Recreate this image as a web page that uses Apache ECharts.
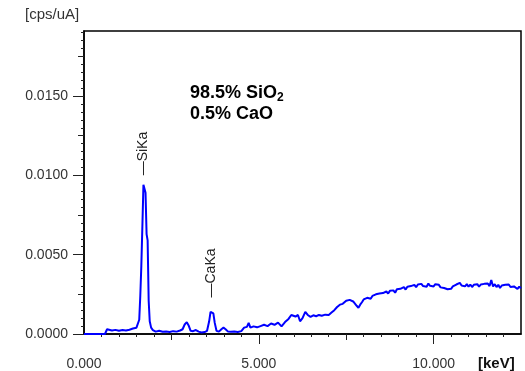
<!DOCTYPE html>
<html>
<head>
<meta charset="utf-8">
<script src="https://cdn.jsdelivr.net/npm/echarts@6/dist/echarts.min.js"></script>
<style>
  html, body { margin: 0; padding: 0; background: #fff; }
  #chart { width: 525px; height: 371px; }
</style>
</head>
<body>
<div id="chart"></div>
<script>
// energy (keV) and intensity (cps/uA)
const energy = [
  0.00, 0.60, 0.66, 0.70, 0.80, 0.90, 1.00, 1.10, 1.20, 1.30, 1.40, 1.45, 1.50, 1.55,
  1.58, 1.61, 1.64, 1.67, 1.70, 1.73, 1.76, 1.79, 1.82, 1.85, 1.88, 1.92, 1.97,
  2.05, 2.15, 2.25, 2.35, 2.45, 2.55, 2.65, 2.75, 2.82, 2.88, 2.94, 3.00, 3.05,
  3.12, 3.20, 3.28, 3.36, 3.45, 3.52, 3.58, 3.62, 3.66, 3.70, 3.74, 3.79, 3.86,
  3.93, 3.99, 4.05, 4.12, 4.20, 4.30, 4.40, 4.50, 4.58, 4.66, 4.71, 4.76, 4.85,
  4.95, 5.05, 5.15, 5.25, 5.35, 5.45, 5.55, 5.65, 5.75, 5.85, 5.93, 5.98, 6.05,
  6.12, 6.18, 6.25, 6.33, 6.40, 6.48, 6.56, 6.64, 6.72, 6.80, 6.90, 7.00, 7.08,
  7.16, 7.24, 7.32, 7.40,
  7.50, 7.55, 7.60, 7.65, 7.70, 7.75, 7.80, 7.85, 7.90, 7.95,
  8.00, 8.05, 8.10, 8.15, 8.20, 8.25, 8.30, 8.35, 8.40, 8.45,
  8.50, 8.55, 8.60, 8.65, 8.70, 8.75, 8.80, 8.85, 8.90, 8.95,
  9.00, 9.05, 9.10, 9.15, 9.20, 9.25, 9.30, 9.35, 9.40, 9.45,
  9.50, 9.55, 9.60, 9.65, 9.70, 9.75, 9.80, 9.85, 9.90, 9.95,
  10.00, 10.05, 10.10, 10.15, 10.20, 10.25, 10.30, 10.35, 10.40, 10.45,
  10.50, 10.55, 10.60, 10.65, 10.70, 10.75, 10.80, 10.85, 10.90, 10.95,
  11.00, 11.05, 11.10, 11.15, 11.20, 11.25, 11.30, 11.35, 11.40, 11.45,
  11.50, 11.55, 11.60, 11.65, 11.70, 11.75, 11.80, 11.85, 11.90, 11.95,
  12.00, 12.05, 12.10, 12.15, 12.20, 12.25, 12.30, 12.35, 12.40, 12.45, 12.50
];
const intensity = [
  0, 0, 0.00030, 0.00028, 0.00022, 0.00026, 0.00020, 0.00025, 0.00022, 0.00027, 0.00035, 0.00030, 0.00040, 0.00045,
  0.00090, 0.00240, 0.00430, 0.00680, 0.00940, 0.00940, 0.00890, 0.00630, 0.00590, 0.00210, 0.00080, 0.00040, 0.00025,
  0.00015, 0.00020, 0.00014, 0.00016, 0.00013, 0.00018, 0.00015, 0.00022, 0.00030, 0.00060, 0.00075, 0.00050, 0.00020,
  0.00018, 0.00025, 0.00015, 0.00010, 0.00012, 0.00020, 0.00080, 0.00140, 0.00150, 0.00130, 0.00070, 0.00020, 0.00015,
  0.00030, 0.00040, 0.00030, 0.00015, 0.00014, 0.00016, 0.00013, 0.00018, 0.00040, 0.00045, 0.00070, 0.00040, 0.00048,
  0.00042, 0.00050, 0.00058, 0.00050, 0.00066, 0.00058, 0.00072, 0.00048, 0.00075, 0.00095, 0.00120, 0.00130, 0.00110,
  0.00120, 0.00080, 0.00100, 0.00140, 0.00120, 0.00108, 0.00118, 0.00112, 0.00120, 0.00115, 0.00122, 0.00120, 0.00135,
  0.00150, 0.00170, 0.00185, 0.00190,
  0.00210, 0.00198, 0.00215, 0.00222, 0.00205, 0.00195, 0.00178, 0.00165, 0.00185, 0.00200,
  0.00218, 0.00208, 0.00228, 0.00235, 0.00222, 0.00240, 0.00232, 0.00250, 0.00238, 0.00255,
  0.00245, 0.00258, 0.00250, 0.00268, 0.00255, 0.00272, 0.00262, 0.00275, 0.00260, 0.00282,
  0.00270, 0.00285, 0.00275, 0.00295, 0.00280, 0.00298, 0.00286, 0.00302, 0.00290, 0.00310,
  0.00295, 0.00312, 0.00300, 0.00316, 0.00302, 0.00314, 0.00298, 0.00318, 0.00304, 0.00312,
  0.00300, 0.00314, 0.00302, 0.00310, 0.00294, 0.00306, 0.00290, 0.00298, 0.00282, 0.00292,
  0.00285, 0.00300, 0.00296, 0.00312, 0.00305, 0.00322, 0.00306, 0.00318, 0.00300, 0.00314,
  0.00298, 0.00312, 0.00296, 0.00310, 0.00300, 0.00314, 0.00298, 0.00312, 0.00302, 0.00316,
  0.00304, 0.00318, 0.00302, 0.00340, 0.00300, 0.00314, 0.00296, 0.00310, 0.00290, 0.00306,
  0.00294, 0.00310, 0.00298, 0.00312, 0.00296, 0.00308, 0.00300, 0.00312, 0.00284, 0.00298, 0.00288
];

const xLabels = [0, 5, 10];
const xMajorTicks = [5, 10];
const xMidTicks = [2.5, 7.5];
const xMinorTicks = [0.5, 1, 1.5, 2, 3, 3.5, 4, 4.5, 5.5, 6, 6.5, 7, 8, 8.5, 9, 9.5, 10.5, 11, 11.5, 12];
const yLabels = [0, 0.005, 0.01, 0.015];
const yMidTicks = [0.0025, 0.0075, 0.0125, 0.0175];
const yMinorTicks = [0.0005, 0.001, 0.0015, 0.002, 0.003, 0.0035, 0.004, 0.0045, 0.0055, 0.006, 0.0065, 0.007,
  0.008, 0.0085, 0.009, 0.0095, 0.0105, 0.011, 0.0115, 0.012, 0.013, 0.0135, 0.014, 0.0145, 0.0155, 0.016,
  0.0165, 0.017, 0.018, 0.0185, 0.019];

// peak markers: [name, energy, value at bottom of label]
const peaks = [['\u2014SiKa', 1.70, 0.0100], ['\u2014CaKa', 3.64, 0.0023]];

const X_MAX = 12.5, Y_MAX = 0.0191;
const FONT = '"Liberation Sans", Arial, sans-serif';
const AXIS = '#000';

const chart = echarts.init(document.getElementById('chart'));

function xAxisDef(ticks, len, withLine, labels) {
  return {
    type: 'value', min: 0, max: X_MAX, position: 'bottom',
    axisLine: { show: withLine, lineStyle: { color: AXIS, width: 1.5 } },
    axisTick: { show: true, length: len, customValues: ticks, lineStyle: { color: '#222', width: 1 } },
    axisLabel: labels ? {
      show: true, customValues: labels, margin: 23, color: '#333', fontSize: 14, fontFamily: FONT,
      formatter: v => v.toFixed(3)
    } : { show: false },
    splitLine: { show: false }
  };
}
function yAxisDef(ticks, len, withLine, labels) {
  return {
    type: 'value', min: 0, max: Y_MAX, position: 'left',
    axisLine: { show: withLine, lineStyle: { color: AXIS, width: 1.5 } },
    axisTick: { show: true, length: len, customValues: ticks, lineStyle: { color: '#222', width: 1 } },
    axisLabel: labels ? {
      show: true, customValues: labels, margin: 16, color: '#333', fontSize: 14, fontFamily: FONT,
      formatter: v => v.toFixed(4)
    } : { show: false },
    splitLine: { show: false }
  };
}

chart.setOption({
  animation: false,
  grid: { left: 84, top: 31, right: 4, bottom: 37, show: true, borderColor: AXIS, borderWidth: 1.5, backgroundColor: 'transparent' },
  xAxis: [
    xAxisDef(xMajorTicks, 10, true, xLabels),
    xAxisDef(xMidTicks, 6, false, null),
    xAxisDef(xMinorTicks, 3, false, null)
  ],
  yAxis: [
    yAxisDef(yLabels, 11, true, yLabels),
    yAxisDef(yMidTicks, 6, false, null),
    yAxisDef(yMinorTicks, 3, false, null)
  ],
  title: {
    text: '[cps/uA]', left: 25, top: 7, padding: 0,
    textStyle: { fontSize: 15, fontWeight: 'normal', color: '#333', fontFamily: FONT }
  },
  graphic: [
    {
      type: 'text', left: 478, top: 356,
      style: { text: '[keV]', font: 'bold 15px ' + FONT, fill: '#111' }
    },
    {
      type: 'text', left: 190, top: 83,
      style: {
        text: '{a|98.5% SiO}{s|2}\n{a|0.5% CaO}',
        rich: {
          a: { font: 'bold 18px ' + FONT, fill: '#000', lineHeight: 21 },
          s: { font: 'bold 12px ' + FONT, fill: '#000', lineHeight: 21, padding: [9, 0, 0, 0] }
        }
      }
    }
  ],
  series: [{
    type: 'line',
    data: energy.map((e, i) => [e, intensity[i]]),
    showSymbol: false,
    lineStyle: { color: '#0000ff', width: 2 },
    markPoint: {
      symbol: 'circle', symbolSize: 0, silent: true,
      label: {
        show: true, formatter: '{b}', position: 'inside', rotate: 90,
        align: 'left', verticalAlign: 'middle', color: '#222', fontSize: 14, fontFamily: FONT
      },
      data: peaks.map(p => ({ name: p[0], coord: [p[1], p[2]] }))
    }
  }]
});
</script>
</body>
</html>
